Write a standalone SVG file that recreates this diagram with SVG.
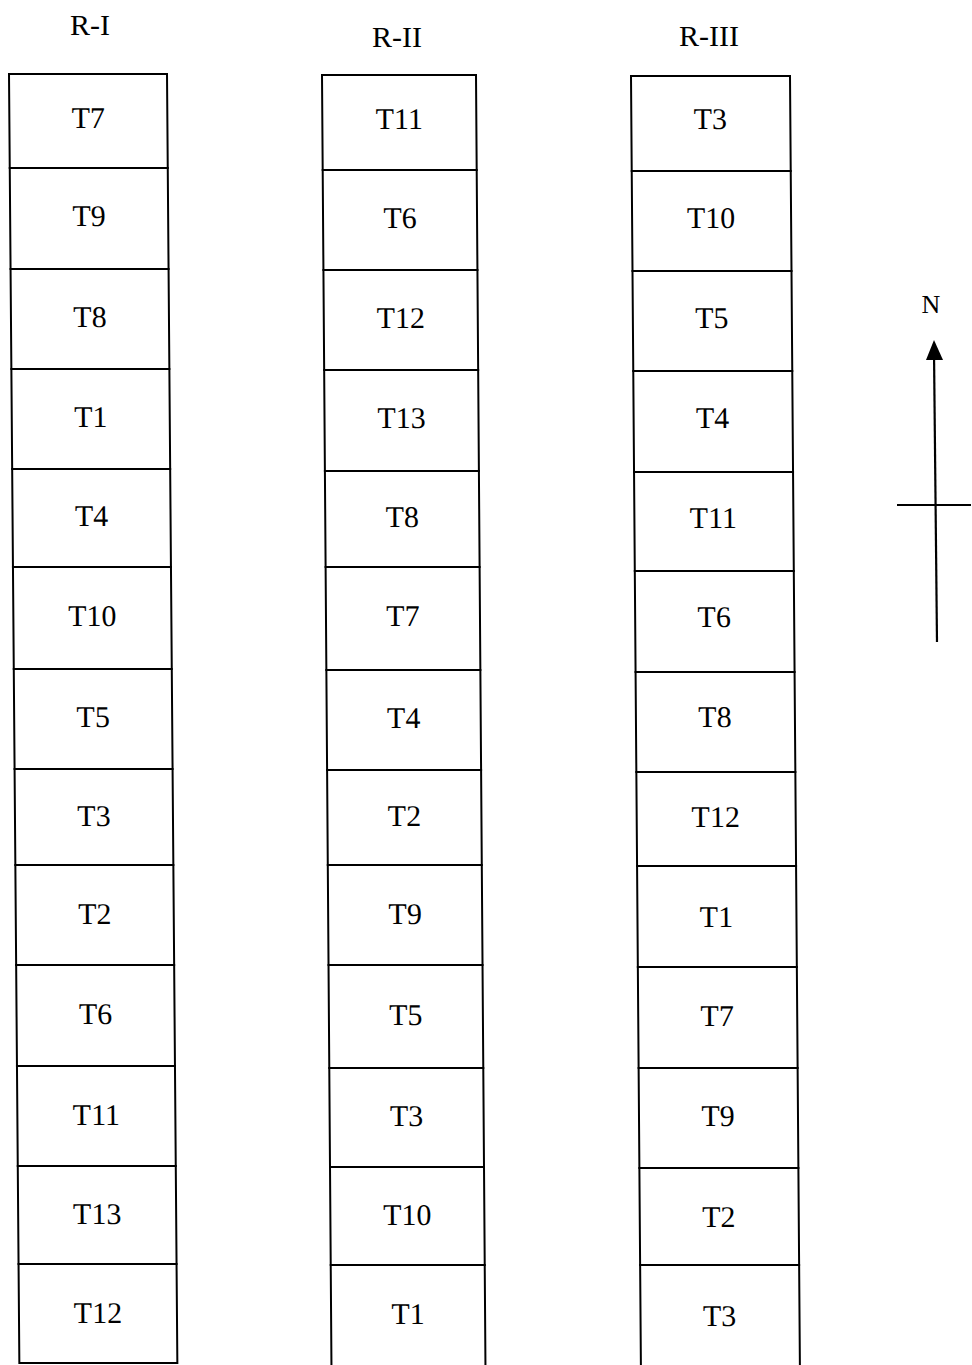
<svg xmlns="http://www.w3.org/2000/svg" width="972" height="1365" viewBox="0 0 972 1365">
<style>
.cell{fill:#fff;stroke:#000;stroke-width:2}
.lbl{font-family:"Liberation Serif","Times New Roman",serif;font-size:30px;fill:#000;text-anchor:middle}
.hdr{font-family:"Liberation Serif","Times New Roman",serif;font-size:30px;fill:#000;text-anchor:middle}
.ln{stroke:#000;stroke-width:2.2;fill:none}
</style>
<rect width="972" height="1365" fill="#fff"/>
<text class="hdr" x="90" y="35">R-I</text>
<text class="hdr" x="397" y="47">R-II</text>
<text class="hdr" x="709" y="46">R-III</text>

<g id="col-R-I" transform="translate(9,74) skewX(0.46)">
<g id="r1-1"><rect class="cell" x="0" y="0" width="158" height="94"/><text class="lbl" x="79" y="54">T7</text></g>
<g id="r1-2"><rect class="cell" x="0" y="94" width="158" height="101"/><text class="lbl" x="79" y="152">T9</text></g>
<g id="r1-3"><rect class="cell" x="0" y="195" width="158" height="100"/><text class="lbl" x="79" y="253">T8</text></g>
<g id="r1-4"><rect class="cell" x="0" y="295" width="158" height="100"/><text class="lbl" x="79" y="353">T1</text></g>
<g id="r1-5"><rect class="cell" x="0" y="395" width="158" height="98"/><text class="lbl" x="79" y="452">T4</text></g>
<g id="r1-6"><rect class="cell" x="0" y="493" width="158" height="102"/><text class="lbl" x="79" y="552">T10</text></g>
<g id="r1-7"><rect class="cell" x="0" y="595" width="158" height="100"/><text class="lbl" x="79" y="653">T5</text></g>
<g id="r1-8"><rect class="cell" x="0" y="695" width="158" height="96"/><text class="lbl" x="79" y="752">T3</text></g>
<g id="r1-9"><rect class="cell" x="0" y="791" width="158" height="100"/><text class="lbl" x="79" y="850">T2</text></g>
<g id="r1-10"><rect class="cell" x="0" y="891" width="158" height="101"/><text class="lbl" x="79" y="950">T6</text></g>
<g id="r1-11"><rect class="cell" x="0" y="992" width="158" height="100"/><text class="lbl" x="79" y="1051">T11</text></g>
<g id="r1-12"><rect class="cell" x="0" y="1092" width="158" height="98"/><text class="lbl" x="79" y="1150">T13</text></g>
<g id="r1-13"><rect class="cell" x="0" y="1190" width="158" height="99"/><text class="lbl" x="79" y="1249">T12</text></g>
</g>

<g id="col-R-II" transform="translate(322,75) skewX(0.42)">
<g id="r2-1"><rect class="cell" x="0" y="0" width="154" height="95"/><text class="lbl" x="77" y="54">T11</text></g>
<g id="r2-2"><rect class="cell" x="0" y="95" width="154" height="100"/><text class="lbl" x="77" y="153">T6</text></g>
<g id="r2-3"><rect class="cell" x="0" y="195" width="154" height="100"/><text class="lbl" x="77" y="253">T12</text></g>
<g id="r2-4"><rect class="cell" x="0" y="295" width="154" height="101"/><text class="lbl" x="77" y="353">T13</text></g>
<g id="r2-5"><rect class="cell" x="0" y="396" width="154" height="96"/><text class="lbl" x="77" y="452">T8</text></g>
<g id="r2-6"><rect class="cell" x="0" y="492" width="154" height="103"/><text class="lbl" x="77" y="551">T7</text></g>
<g id="r2-7"><rect class="cell" x="0" y="595" width="154" height="100"/><text class="lbl" x="77" y="653">T4</text></g>
<g id="r2-8"><rect class="cell" x="0" y="695" width="154" height="95"/><text class="lbl" x="77" y="751">T2</text></g>
<g id="r2-9"><rect class="cell" x="0" y="790" width="154" height="100"/><text class="lbl" x="77" y="849">T9</text></g>
<g id="r2-10"><rect class="cell" x="0" y="890" width="154" height="103"/><text class="lbl" x="77" y="950">T5</text></g>
<g id="r2-11"><rect class="cell" x="0" y="993" width="154" height="99"/><text class="lbl" x="77" y="1051">T3</text></g>
<g id="r2-12"><rect class="cell" x="0" y="1092" width="154" height="98"/><text class="lbl" x="77" y="1150">T10</text></g>
<g id="r2-13"><rect class="cell" x="0" y="1190" width="154" height="104"/><text class="lbl" x="77" y="1249">T1</text></g>
</g>

<g id="col-R-III" transform="translate(631,76) skewX(0.44)">
<g id="r3-1"><rect class="cell" x="0" y="0" width="159" height="95"/><text class="lbl" x="79" y="53">T3</text></g>
<g id="r3-2"><rect class="cell" x="0" y="95" width="159" height="100"/><text class="lbl" x="79" y="152">T10</text></g>
<g id="r3-3"><rect class="cell" x="0" y="195" width="159" height="100"/><text class="lbl" x="79" y="252">T5</text></g>
<g id="r3-4"><rect class="cell" x="0" y="295" width="159" height="101"/><text class="lbl" x="79" y="352">T4</text></g>
<g id="r3-5"><rect class="cell" x="0" y="396" width="159" height="99"/><text class="lbl" x="79" y="452">T11</text></g>
<g id="r3-6"><rect class="cell" x="0" y="495" width="159" height="101"/><text class="lbl" x="79" y="551">T6</text></g>
<g id="r3-7"><rect class="cell" x="0" y="596" width="159" height="100"/><text class="lbl" x="79" y="651">T8</text></g>
<g id="r3-8"><rect class="cell" x="0" y="696" width="159" height="94"/><text class="lbl" x="79" y="751">T12</text></g>
<g id="r3-9"><rect class="cell" x="0" y="790" width="159" height="101"/><text class="lbl" x="79" y="851">T1</text></g>
<g id="r3-10"><rect class="cell" x="0" y="891" width="159" height="101"/><text class="lbl" x="79" y="950">T7</text></g>
<g id="r3-11"><rect class="cell" x="0" y="992" width="159" height="100"/><text class="lbl" x="79" y="1050">T9</text></g>
<g id="r3-12"><rect class="cell" x="0" y="1092" width="159" height="97"/><text class="lbl" x="79" y="1151">T2</text></g>
<g id="r3-13"><rect class="cell" x="0" y="1189" width="159" height="104"/><text class="lbl" x="79" y="1250">T3</text></g>
</g>

<g id="compass">
<text x="931" y="313" font-family="Liberation Serif, Times New Roman, serif" font-size="26" text-anchor="middle">N</text>
<line class="ln" x1="934" y1="352" x2="937" y2="642"/>
<polygon points="934,340 926,360 943,360" fill="#000"/>
<line class="ln" x1="897" y1="505" x2="971" y2="505"/>
</g>
</svg>
